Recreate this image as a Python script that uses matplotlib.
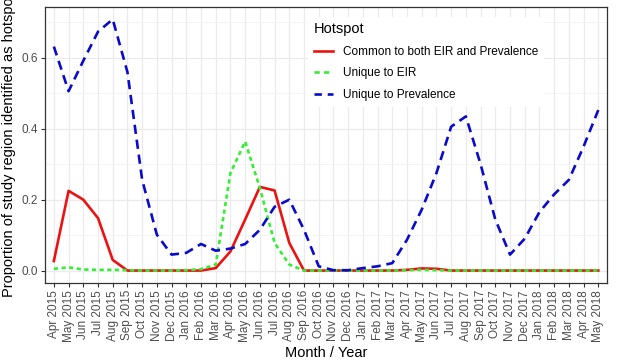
import matplotlib
matplotlib.use("Agg")
import matplotlib.pyplot as plt
from matplotlib.ticker import MultipleLocator

plt.rcParams['font.family'] = ['Liberation Sans', 'DejaVu Sans']

# Months Apr 2015 .. May 2018
months = ['Apr 2015', 'May 2015', 'Jun 2015', 'Jul 2015', 'Aug 2015', 'Sep 2015',
          'Oct 2015', 'Nov 2015', 'Dec 2015', 'Jan 2016', 'Feb 2016', 'Mar 2016',
          'Apr 2016', 'May 2016', 'Jun 2016', 'Jul 2016', 'Aug 2016', 'Sep 2016',
          'Oct 2016', 'Nov 2016', 'Dec 2016', 'Jan 2017', 'Feb 2017', 'Mar 2017',
          'Apr 2017', 'May 2017', 'Jun 2017', 'Jul 2017', 'Aug 2017', 'Sep 2017',
          'Oct 2017', 'Nov 2017', 'Dec 2017', 'Jan 2018', 'Feb 2018', 'Mar 2018',
          'Apr 2018', 'May 2018']

common = [0.027, 0.225, 0.200, 0.148, 0.030, 0.000, 0.000, 0.000, 0.000, 0.000,
          0.000, 0.007, 0.054, 0.144, 0.236, 0.226, 0.078, 0.000, 0.000, 0.000,
          0.000, 0.000, 0.000, 0.000, 0.002, 0.006, 0.005, 0.000, 0.000, 0.000,
          0.000, 0.000, 0.000, 0.000, 0.000, 0.000, 0.000, 0.000]

unique_eir = [0.005, 0.009, 0.003, 0.002, 0.002, 0.001, 0.000, 0.000, 0.000, 0.001,
              0.004, 0.017, 0.275, 0.364, 0.233, 0.078, 0.017, 0.000, 0.000, 0.000,
              0.000, 0.000, 0.000, 0.000, 0.001, 0.002, 0.001, 0.000, 0.000, 0.000,
              0.000, 0.000, 0.000, 0.000, 0.000, 0.000, 0.000, 0.000]

unique_prev = [0.632, 0.506, 0.592, 0.674, 0.709, 0.560, 0.256, 0.101, 0.045, 0.050,
               0.075, 0.056, 0.062, 0.075, 0.115, 0.180, 0.200, 0.115, 0.012, 0.001,
               0.001, 0.007, 0.012, 0.021, 0.087, 0.172, 0.275, 0.406, 0.435, 0.300,
               0.144, 0.045, 0.090, 0.165, 0.215, 0.256, 0.350, 0.453]

x = list(range(len(months)))

fig = plt.figure(figsize=(6.17, 3.63), dpi=100)
ax = fig.add_axes([0.073, 0.22, 0.911, 0.762])

ax.plot(x, common, color='#ee1111', lw=1.9, label='Common to both EIR and Prevalence')
ax.plot(x, unique_eir, color='#33ee33', lw=1.9, dashes=(1.6, 1.3),
        label='Unique to EIR')
ax.plot(x, unique_prev, color='#0a0acc', lw=1.9, dashes=(3.5, 2.2),
        label='Unique to Prevalence')

ax.set_xlim(-0.6, len(months) - 1 + 0.6)
ax.set_ylim(-0.0355, 0.745)
ax.set_xticks(x)
ax.set_xticklabels(months, rotation=90, fontsize=8.5, color='#4d4d4d')
ax.yaxis.set_minor_locator(MultipleLocator(0.1))
ax.set_yticks([0.0, 0.2, 0.4, 0.6])
ax.set_yticklabels(['0.0', '0.2', '0.4', '0.6'], fontsize=8.5, color='#4d4d4d')
ax.tick_params(axis='both', which='major', length=3, color='#333333', pad=2)
ax.tick_params(axis='y', which='minor', length=0)

ax.grid(True, which='major', color='#ebebeb', lw=0.9)
ax.grid(True, which='minor', axis='y', color='#f3f3f3', lw=0.6)
ax.set_axisbelow(True)
for s in ax.spines.values():
    s.set_color('#333333')
    s.set_linewidth(0.9)

ax.set_xlabel('Month / Year', fontsize=10.5, labelpad=3)
ax.set_ylabel('Proportion of study region identified as hotspot', fontsize=10.5, labelpad=4)

leg = ax.legend(title='Hotspot', loc='upper left', bbox_to_anchor=(0.457, 0.985),
                fontsize=8.5, title_fontsize=10.5, frameon=True, fancybox=False,
                handlelength=1.65, handletextpad=0.8, labelspacing=0.8,
                borderpad=0.5)
leg._legend_box.align = 'left'
leg.get_frame().set_facecolor('white')
leg.get_frame().set_edgecolor('none')
leg.get_frame().set_alpha(1.0)
# two clear dashes in each dashed key, as in the reference
leg.get_lines()[1].set_dashes((2.0, 1.6))
leg.get_lines()[2].set_dashes((2.8, 2.2))

fig.savefig('out.png', dpi=100)
